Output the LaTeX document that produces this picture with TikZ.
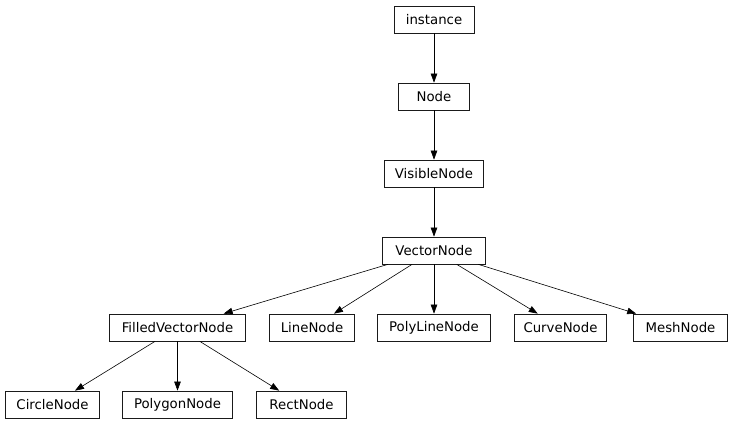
\documentclass[tikz,border=0pt]{standalone}
\usepackage{fontspec}
\setmainfont{DejaVu Sans}
\usetikzlibrary{arrows.meta, positioning}
\definecolor{boxborder}{HTML}{1a1a1a}
\definecolor{edgeline}{HTML}{000000}
\tikzset{
    cls/.style={
        rectangle, draw=boxborder, line width=0.7pt,
        minimum height=27pt, inner sep=0pt,
        font=\fontsize{13.3}{16}\selectfont
    },
    arr/.style={-{Triangle[length=9pt, width=6.5pt]}, line width=0.6pt, color=edgeline}
}
\begin{document}
\begin{tikzpicture}[x=1pt, y=-1pt, node distance=49.3pt and 23.3pt]

    \useasboundingbox (0,0) rectangle (733,427);

    % --- Spine ---
    \node[cls, minimum width=80pt] (instance) at (434,19.5) {instance};
    \node[cls, minimum width=71pt, below=of instance] (node) {Node};
    \node[cls, minimum width=99pt, below=of node] (visiblenode) {VisibleNode};
    \node[cls, minimum width=103pt, below=of visiblenode] (vectornode) {VectorNode};

    % --- Row 4: subclasses of VectorNode ---
    \node[cls, minimum width=113pt, below=of vectornode] (polylinenode) {PolyLineNode};
    \node[cls, minimum width=85pt, left=22.3pt of polylinenode] (linenode) {LineNode};
    \node[cls, minimum width=136pt, left=of linenode] (filledvectornode) {FilledVectorNode};
    \node[cls, minimum width=92pt, right=of polylinenode] (curvenode) {CurveNode};
    \node[cls, minimum width=94pt, right=26.3pt of curvenode] (meshnode) {MeshNode};

    % --- Row 5: subclasses of FilledVectorNode ---
    \node[cls, minimum width=110pt, below=of filledvectornode] (polygonnode) {PolygonNode};
    \node[cls, minimum width=94pt, left=22.3pt of polygonnode] (circlenode) {CircleNode};
    \node[cls, minimum width=90pt, right=of polygonnode] (rectnode) {RectNode};

    % --- Arrows ---
    \draw[arr] (instance) -- (node);
    \draw[arr] (node) -- (visiblenode);
    \draw[arr] (visiblenode) -- (vectornode);
    \draw[arr] (vectornode) -- (filledvectornode);
    \draw[arr] (vectornode) -- (linenode);
    \draw[arr] (vectornode) -- (polylinenode);
    \draw[arr] (vectornode) -- (curvenode);
    \draw[arr] (vectornode) -- (meshnode);
    \draw[arr] (filledvectornode) -- (circlenode);
    \draw[arr] (filledvectornode) -- (polygonnode);
    \draw[arr] (filledvectornode) -- (rectnode);

\end{tikzpicture}
\end{document}
